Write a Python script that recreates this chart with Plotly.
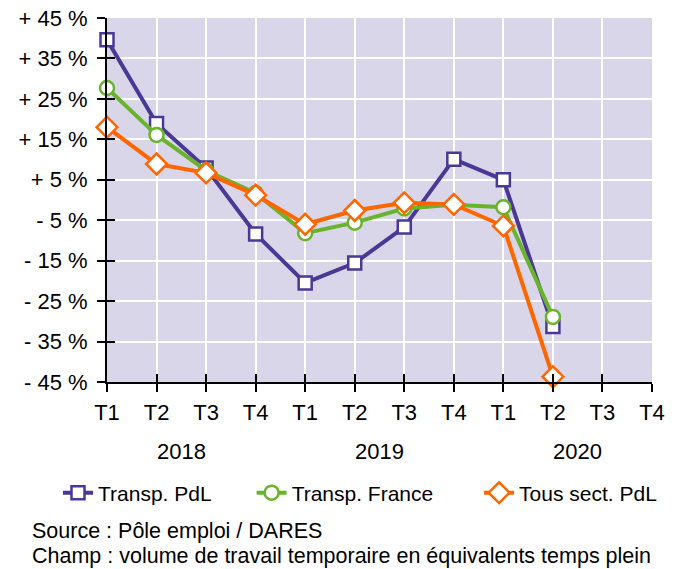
import plotly.graph_objects as go

quarters = ["T1", "T2", "T3", "T4", "T1", "T2", "T3", "T4", "T1", "T2", "T3", "T4"]
years = ["2018", "2019", "2020"]
year_centers = [1.5, 5.5, 9.5]
positions = list(range(len(quarters)))

transp_pdl = [39.6, 18.9, 7.9, -8.4, -20.5, -15.6, -6.7, 10.1, 5.0, -31.3]
transp_france = [27.7, 16.1, 7.3, 1.7, -8.2, -5.6, -2.1, -1.2, -1.8, -28.9]
tous_sect_pdl = [18.0, 8.9, 6.7, 1.2, -6.0, -2.6, -0.7, -1.1, -6.4, -43.7]

series_names = ["Transp. PdL", "Transp. France", "Tous sect. PdL"]

y_ticks = [45, 35, 25, 15, 5, -5, -15, -25, -35, -45]
y_ticktext = [("+ " if v > 0 else "- ") + str(abs(v)) + " %" for v in y_ticks]

source_lines = ["Source : Pôle emploi / DARES",
                "Champ : volume de travail temporaire en équivalents temps plein"]

PURPLE = "#4b3894"
GREEN = "#6ab42d"
ORANGE = "#ff6600"
BG = "#d9d6e9"
FONT = "Liberation Sans, Arial, sans-serif"
NB = "\u00a0"

fig = go.Figure()
series = [
    (series_names[0] + NB * 6, transp_pdl, PURPLE, "square", 13),
    (series_names[1] + NB * 7, transp_france, GREEN, "circle", 14),
    (series_names[2], tous_sect_pdl, ORANGE, "diamond", 16),
]
for name, vals, col, sym, sz in series:
    fig.add_trace(go.Scatter(
        x=positions[:len(vals)], y=vals, name=name, mode="lines+markers",
        line=dict(color=col, width=4),
        marker=dict(symbol=sym, size=sz, color="white", line=dict(color=col, width=2.5)),
        cliponaxis=False,
    ))

# invisible trace to carry the overlay axes (crossing ticks)
fig.add_trace(go.Scatter(x=positions, y=[0] * len(positions), xaxis="x2", yaxis="y2",
                         mode="markers", marker=dict(opacity=0), showlegend=False,
                         hoverinfo="skip"))

fig.update_layout(
    width=680, height=569,
    margin=dict(l=107, r=28, t=18, b=187, autoexpand=False),
    paper_bgcolor="white", plot_bgcolor=BG,
    font=dict(family=FONT, size=22, color="black"),
    showlegend=True,
    legend=dict(orientation="h", xref="paper", x=(58 - 107) / 545, xanchor="left",
                yref="paper", y=(382 - 493) / 364, yanchor="middle",
                font=dict(size=21), tracegroupgap=0, itemwidth=30,
                bgcolor="rgba(0,0,0,0)"),
    xaxis=dict(range=[0, 11], tickvals=positions, ticktext=quarters,
               showgrid=True, gridcolor="white", gridwidth=2,
               showline=True, linecolor="black", linewidth=2,
               ticks="outside", ticklen=8, tickwidth=2, tickcolor="black",
               zeroline=False, ticklabelstandoff=2),
    yaxis=dict(range=[-45, 45], tickvals=y_ticks, ticktext=y_ticktext,
               showgrid=True, gridcolor="white", gridwidth=2,
               showline=True, linecolor="black", linewidth=2,
               ticks="outside", ticklen=8, tickwidth=2, tickcolor="black",
               zeroline=False, ticklabelstandoff=5),
    xaxis2=dict(range=[0, 11], tickvals=positions, overlaying="x", showticklabels=False,
                ticks="inside", ticklen=8, tickwidth=2, tickcolor="black",
                showgrid=False, zeroline=False, showline=False, side="bottom", anchor="y2"),
    yaxis2=dict(range=[-45, 45], tickvals=y_ticks, overlaying="y", showticklabels=False,
                ticks="inside", ticklen=8, tickwidth=2, tickcolor="black",
                showgrid=False, zeroline=False, showline=False, side="left", anchor="x2"),
)

for yr, xc in zip(years, year_centers):
    fig.add_annotation(text=yr, x=xc, xref="x", y=(382 - 451) / 364, yref="paper",
                       showarrow=False, font=dict(size=22), yanchor="middle")

for line, yc in zip(source_lines, [531, 556]):
    fig.add_annotation(text=line, x=(30 - 107) / 545, xref="paper", xanchor="left",
                       y=(382 - yc) / 364, yref="paper", yanchor="middle",
                       showarrow=False, font=dict(size=21.5))

fig.write_html("out.html", config={"displayModeBar": False},
               post_script="document.body.style.margin='0';document.body.style.padding='0';")
